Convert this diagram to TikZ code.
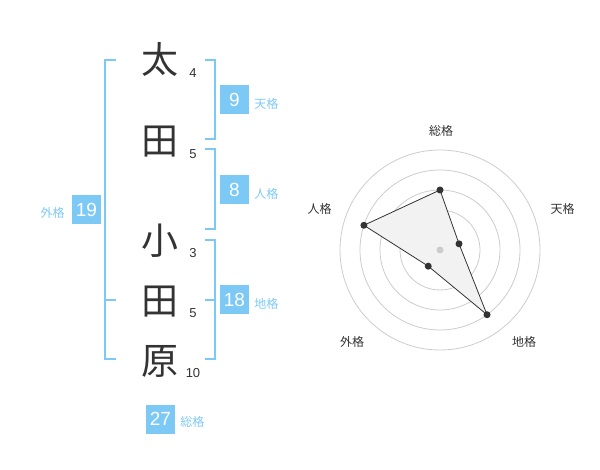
\documentclass[tikz,border=0pt]{standalone}
\usepackage{fontspec}
\setmainfont{Liberation Sans}
\newfontfamily\jp{Noto Sans CJK JP}
\usetikzlibrary{positioning}
\definecolor{kaku}{RGB}{125,201,246}
\definecolor{ink}{RGB}{51,51,51}
\definecolor{ringgray}{RGB}{204,204,204}
\definecolor{areagray}{RGB}{242,242,242}

\begin{document}
\begin{tikzpicture}[x=1pt,y=-1pt]
\tikzstyle{kanji} = [text=ink, font=\jp\fontsize{37}{37}\selectfont, inner sep=0pt]
\tikzstyle{kakusu} = [text=ink, font=\fontsize{13}{13}\selectfont, inner sep=0pt, anchor=base]
\tikzstyle{score} = [fill=kaku, text=white, font=\fontsize{19}{19}\selectfont,
minimum size=29pt, inner sep=0pt]
\tikzstyle{kname} = [text=kaku, font=\jp\fontsize{12}{12}\selectfont, inner sep=0pt]
\tikzstyle{axisname} = [text=ink, font=\jp\fontsize{12}{12}\selectfont, inner sep=0pt]
\tikzstyle{bracket} = [draw=kaku, line width=2pt];
\tikzstyle{circ} = [draw=ringgray, line width=0.8pt];
\tikzstyle{chart} = [draw=ink, line width=0.8pt, fill=areagray];
\useasboundingbox (0,0) rectangle (600,470);
% name
\node [kanji] (k1) at (160,59.5) {太};
\node [kanji] (k2) at (160,141.7) {田};
\node [kanji] (k3) at (160,241) {小};
\node [kanji] (k4) at (160,301.5) {田};
\node [kanji] (k5) at (160,361) {原};
\node [kakusu] (n1) at (193,77.5) {4};
\node [kakusu] (n2) at (193,158.3) {5};
\node [kakusu] (n3) at (193,257.7) {3};
\node [kakusu] (n4) at (193,318) {5};
\node [kakusu] (n5) at (193,377.7) {10};
% brackets
\path [bracket] (116,60) -- (105,60) -- (105,359) -- (116,359);
\path [bracket] (105,300) -- (116,300);
\path [bracket] (205,60) -- (215,60) -- (215,139) -- (205,139);
\path [bracket] (205,149) -- (215,149) -- (215,229) -- (205,229);
\path [bracket] (205,240) -- (215,240) -- (215,359) -- (205,359);
\path [bracket] (205,300) -- (215,300);
% scores
\node [score] (ten) at (234.5,100) {9};
\node [score] (jin) at (234.5,190) {8};
\node [score] (chi) at (234.5,300) {18};
\node [score] (gai) at (86.5,210) {19};
\node [score] (sou) at (160.5,419) {27};
\node [kname, right=5pt of ten, yshift=-4pt] (tenlbl) {天格};
\node [kname, right=5pt of jin, yshift=-4pt] (jinlbl) {人格};
\node [kname, right=5pt of chi, yshift=-4pt] (chilbl) {地格};
\node [kname, left=7pt of gai, yshift=-3pt] (gailbl) {外格};
\node [kname, right=5pt of sou, yshift=-3pt] (soulbl) {総格};
% radar
\begin{scope}[shift={(440,250)}]
\foreach \r in {20,40,60,80,100}
  \path [circ] (0,0) circle [radius=\r pt];
\foreach \a/\v/\n in {90/60/psou, 18/20/pten, -54/80/pchi, -126/20/pgai, 162/80/pjin}
  \coordinate (\n) at (\a:\v pt);
\path [chart] (psou) -- (pten) -- (pchi) -- (pgai) -- (pjin) -- cycle;
\foreach \n in {psou,pten,pchi,pgai,pjin}
  \fill [ink] (\n) circle [radius=3.5pt];
\fill [ringgray] (0,0) circle [radius=3.5pt];
\end{scope}
\node [axisname] (asou) at (441,130.5) {総格};
\node [axisname] (aten) at (562.5,208.5) {天格};
\node [axisname] (achi) at (524,342) {地格};
\node [axisname] (agai) at (352,342) {外格};
\node [axisname] (ajin) at (319.5,209) {人格};
\end{tikzpicture}
\end{document}
